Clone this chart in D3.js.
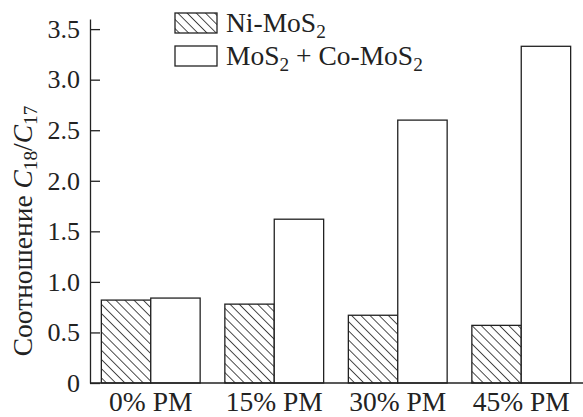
<!DOCTYPE html>
<html>
<head>
<meta charset="utf-8">
<script src="https://cdn.jsdelivr.net/npm/d3@7"></script>
<style>
  body { margin: 0; background: #fff; }
  text { font-family: "Liberation Serif", "Times New Roman", serif; fill: #222; }
</style>
</head>
<body>
<div id="chart"></div>
<script>
// Data
var categories = ["0% PM", "15% PM", "30% PM", "45% PM"];
var niMoS2 = [0.82, 0.78, 0.67, 0.57];
var moS2CoMoS2 = [0.84, 1.62, 2.60, 3.33];
var yTicks = [0, 0.5, 1.0, 1.5, 2.0, 2.5, 3.0, 3.5];

var svgWidth = 583;
var svgHeight = 417;
var fontSize = 26;
var legendFont = 27.5;

var svg = d3.select("#chart")
  .append("svg")
  .attr("width", svgWidth)
  .attr("height", svgHeight);

// hatch pattern for Ni-MoS2
var defs = svg.append("defs");
var pat = defs.append("pattern")
  .attr("id", "hatch")
  .attr("patternUnits", "userSpaceOnUse")
  .attr("width", 6.5)
  .attr("height", 6.5)
  .attr("patternTransform", "rotate(45)");
pat.append("rect").attr("width", 6.5).attr("height", 6.5).attr("fill", "#fff");
pat.append("line")
  .attr("x1", 0).attr("y1", 0).attr("x2", 6.5).attr("y2", 0)
  .attr("stroke", "#222").attr("stroke-width", 1.6);

// scales
var x0 = d3.scaleBand()
  .domain(categories)
  .range([89, 583])
  .paddingInner(0.2)
  .paddingOuter(0.1);

var x1 = d3.scaleBand()
  .domain(["ni", "mo"])
  .range([0, x0.bandwidth()]);

var y = d3.scaleLinear()
  .domain([0, 3.6])
  .range([383, 19]);

var series = [
  { key: "ni", values: niMoS2, fill: "url(#hatch)" },
  { key: "mo", values: moS2CoMoS2, fill: "#fff" }
];

// bars
series.forEach(function(s) {
  svg.append("g").selectAll("rect")
    .data(s.values)
    .enter()
    .append("rect")
    .attr("x", function(d, i) { return x0(categories[i]) + x1(s.key); })
    .attr("y", function(d) { return y(d); })
    .attr("width", x1.bandwidth())
    .attr("height", function(d) { return y(0) - y(d); })
    .attr("fill", s.fill)
    .attr("stroke", "#222")
    .attr("stroke-width", 1.3);
});

// y axis (ticks point inward)
var leftAxis = d3.axisLeft(y)
  .tickValues(yTicks)
  .tickSizeInner(-10)
  .tickSizeOuter(0)
  .tickPadding(10)
  .tickFormat(function(d) { return d === 0 ? "0" : d3.format(".1f")(d); });

var yAxis = svg.append("g")
  .attr("transform", "translate(90,0)")
  .call(leftAxis);
yAxis.select(".domain").attr("stroke", "#222").attr("stroke-width", 1.3);
yAxis.selectAll(".tick line").attr("stroke", "#222").attr("stroke-width", 1.3);
yAxis.selectAll("text")
  .attr("font-size", fontSize)
  .attr("font-family", "Liberation Serif")
  .attr("fill", "#222");

// x axis
var bottomAxis = d3.axisBottom(x0)
  .tickSize(0)
  .tickPadding(8);

var xAxis = svg.append("g")
  .attr("transform", "translate(0," + y(0) + ")")
  .call(bottomAxis);
xAxis.select(".domain").attr("d", "M90,0H583").attr("stroke", "#222").attr("stroke-width", 1.3);
xAxis.selectAll("text")
  .attr("font-size", legendFont)
  .attr("font-family", "Liberation Serif")
  .attr("fill", "#222");

// y axis title
var title = svg.append("text")
  .attr("transform", "translate(32,231) rotate(-90)")
  .attr("text-anchor", "middle")
  .attr("font-size", legendFont);
title.append("tspan").text("Соотношение ");
title.append("tspan").attr("font-style", "italic").text("C");
title.append("tspan").attr("font-size", legendFont * 0.7).attr("dy", 5).text("18");
title.append("tspan").attr("dy", -5).text("/");
title.append("tspan").attr("font-style", "italic").text("C");
title.append("tspan").attr("font-size", legendFont * 0.7).attr("dy", 5).text("17");

// legend
var legend = svg.append("g");
var legendRows = [
  { fill: "url(#hatch)", parts: [["Ni-MoS", 0], ["2", 1]] },
  { fill: "#fff", parts: [["MoS", 0], ["2", 1], [" + Co-MoS", 0], ["2", 1]] }
];
legendRows.forEach(function(row, i) {
  var yy = 13 + i * 33;
  legend.append("rect")
    .attr("x", 175).attr("y", yy)
    .attr("width", 42).attr("height", 20)
    .attr("fill", row.fill)
    .attr("stroke", "#222").attr("stroke-width", 1.3);
  var t = legend.append("text")
    .attr("x", 226).attr("y", yy + 19)
    .attr("font-size", legendFont);
  var down = false;
  row.parts.forEach(function(p) {
    var ts = t.append("tspan").text(p[0]);
    if (p[1] && !down) { ts.attr("dy", 6).attr("font-size", legendFont * 0.7); down = true; }
    else if (!p[1] && down) { ts.attr("dy", -6); down = false; }
  });
});
</script>
</body>
</html>
